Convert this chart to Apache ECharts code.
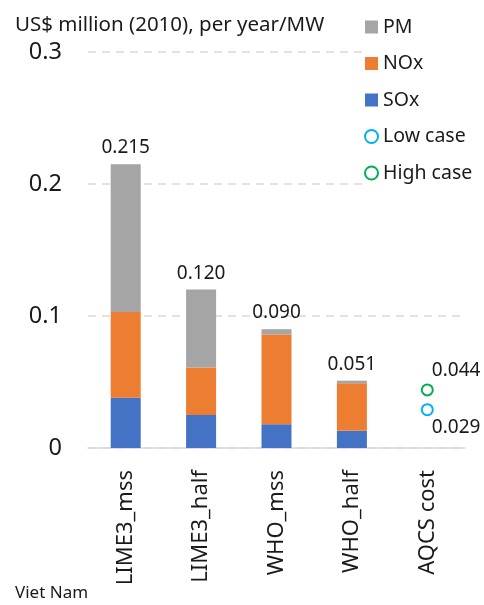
<!DOCTYPE html>
<html>
<head>
<meta charset="utf-8">
<script src="https://cdn.jsdelivr.net/npm/echarts@6/dist/echarts.min.js"></script>
<style>
  html, body { margin: 0; padding: 0; background: #fff; }
  #chart { width: 484px; height: 605px; }
</style>
</head>
<body>
<div id="chart"></div>
<script>
const categories = ['LIME3_mss', 'LIME3_half', 'WHO_mss', 'WHO_half', 'AQCS cost']
const soxValues = [0.038, 0.025, 0.018, 0.013, null]
const noxValues = [0.065, 0.036, 0.068, 0.036, null]
const pmValues = [0.112, 0.059, 0.004, 0.002, null]
const lowCase = [null, null, null, null, 0.029]
const highCase = [null, null, null, null, 0.044]
const yTicks = [0, 0.1, 0.2, 0.3]

const font = 'Noto Sans'
const myChart = echarts.init(document.getElementById('chart'))

// total on top of each stacked bar
const totals = categories.map((c, i) =>
  pmValues[i] == null ? null : soxValues[i] + noxValues[i] + pmValues[i])

const option = {
  animation: false,
  textStyle: { fontFamily: font },
  title: [
    {
      text: 'US$ million (2010), per year/MW',
      left: 10, top: 10,
      textStyle: { fontFamily: font, fontSize: 20.5, fontWeight: 'normal', color: '#1a1a1a' }
    },
    {
      text: 'Viet Nam',
      left: 10, top: 580,
      textStyle: { fontFamily: font, fontSize: 17, fontWeight: 'normal', color: '#1a1a1a' }
    }
  ],
  legend: {
    orient: 'vertical',
    left: 362,
    top: 15,
    itemWidth: 13,
    itemHeight: 13,
    itemGap: 16.5,
    backgroundColor: '#fff',
    padding: [2, 30, 2, 2],
    textStyle: { fontFamily: font, fontSize: 19.5, color: '#1a1a1a', lineHeight: 20 },
    data: [
      { name: 'PM', icon: 'rect' },
      { name: 'NOx', icon: 'rect' },
      { name: 'SOx', icon: 'rect' },
      { name: 'Low case', icon: 'emptyCircle' },
      { name: 'High case', icon: 'emptyCircle' }
    ]
  },
  grid: { left: 88, right: 19, top: 52, bottom: 157, containLabel: false },
  xAxis: {
    type: 'category',
    data: categories,
    axisLine: { lineStyle: { color: '#d9d9d9', width: 1.5 } },
    axisTick: { show: false },
    axisLabel: {
      rotate: 90,
      interval: 0,
      margin: 22,
      fontFamily: font,
      fontSize: 22,
      color: '#1a1a1a'
    }
  },
  yAxis: {
    type: 'value',
    min: 0,
    max: 0.3,
    interval: 0.1,
    axisLine: { show: false },
    axisTick: { show: false },
    splitLine: { lineStyle: { color: '#d9d9d9', type: [8, 6], width: 1.5 } },
    axisLabel: {
      margin: 26,
      fontFamily: font,
      fontSize: 23.5,
      color: '#1a1a1a',
      formatter: v => (v === 0 ? '0' : v.toFixed(1))
    }
  },
  series: [
    {
      name: 'SOx', type: 'bar', stack: 'total', barWidth: 30,
      data: soxValues, itemStyle: { color: '#4472c4' }
    },
    {
      name: 'NOx', type: 'bar', stack: 'total', barWidth: 30,
      data: noxValues, itemStyle: { color: '#ed7d31' }
    },
    {
      name: 'PM', type: 'bar', stack: 'total', barWidth: 30,
      data: pmValues, itemStyle: { color: '#a5a5a5' },
      label: {
        show: true,
        position: 'top',
        distance: 7,
        fontFamily: font,
        fontSize: 19,
        color: '#1a1a1a',
        formatter: p => totals[p.dataIndex].toFixed(3)
      }
    },
    {
      name: 'Low case', type: 'scatter', symbol: 'emptyCircle', symbolSize: 11,
      data: lowCase,
      itemStyle: { color: '#00b0f0', borderWidth: 2, opacity: 1 },
      label: {
        show: true, position: 'right', distance: 0, offset: [-2, 18],
        fontFamily: font, fontSize: 19, color: '#1a1a1a', opacity: 1,
        formatter: p => p.value.toFixed(3)
      }
    },
    {
      name: 'High case', type: 'scatter', symbol: 'emptyCircle', symbolSize: 11,
      data: highCase,
      itemStyle: { color: '#00b050', borderWidth: 2, opacity: 1 },
      label: {
        show: true, position: 'right', distance: 0, offset: [-2, -19],
        fontFamily: font, fontSize: 19, color: '#1a1a1a', opacity: 1,
        formatter: p => p.value.toFixed(3)
      }
    }
  ]
}

myChart.setOption(option)
</script>
</body>
</html>
